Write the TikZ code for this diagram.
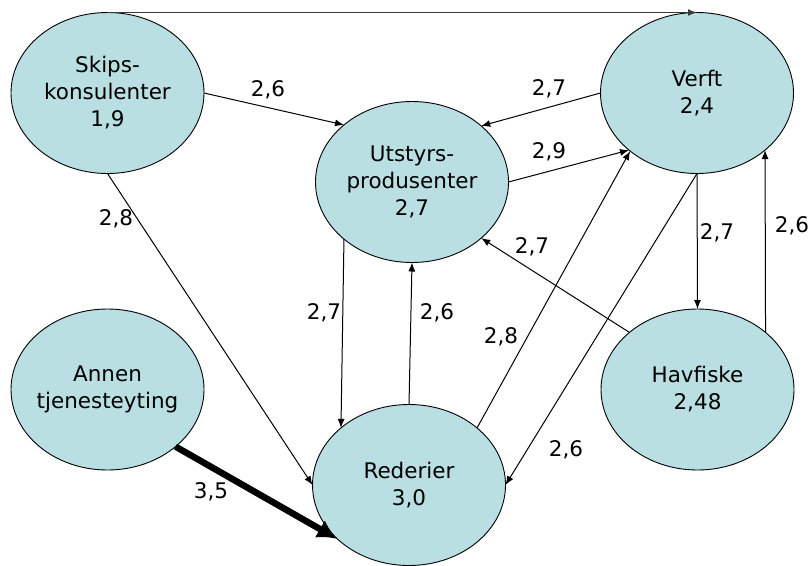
\documentclass[tikz,border=0pt]{standalone}
\usepackage{fontspec}
\setmainfont{DejaVu Sans}
\usetikzlibrary{shapes.geometric,arrows.meta}
\definecolor{blobfill}{RGB}{185,223,226}
\definecolor{toplink}{RGB}{60,60,60}
\tikzset{
  blob/.style={ellipse, draw=black, line width=0.9pt, fill=blobfill,
    minimum width=193pt, minimum height=161pt, inner sep=0pt, outer sep=0pt},
  blobtext/.style={align=center, inner sep=0pt,
    font=\fontsize{21.5pt}{27pt}\selectfont},
  lbl/.style={inner sep=0pt, font=\fontsize{21.5pt}{26pt}\selectfont},
  link/.style={line width=1pt, -{Latex[length=9pt,width=7pt]}},
  heavy/.style={line width=6.5pt, -{Latex[length=20pt,width=20pt]}},
}
\begin{document}
\begin{tikzpicture}[x=1pt,y=-1pt]
\useasboundingbox (0,0) rectangle (810,565);

% ellipses
\node[blob] (sk) at (107.5,93) {};
\node[blob] (ut) at (412,182) {};
\node[blob] (ve) at (697,93) {};
\node[blob] (an) at (107.5,389.5) {};
\node[blob] (re) at (409,485) {};
\node[blob] (ha) at (697.5,389.5) {};

% node texts
\node[blobtext] (skt) at (sk) {Skips-\\konsulenter\\1,9};
\node[blobtext] (utt) at (ut) {Utstyrs-\\produsenter\\2,7};
\node[blobtext] (vet) at (ve) {Verft\\2,4};
\node[blobtext] (ant) at (an) {Annen\\tjenesteyting};
\node[blobtext] (ret) at (re) {Rederier\\3,0};
\node[blobtext] (hat) at (ha) {Havfiske\\2,48};

% connectors
\draw[link, draw=toplink, line width=1.6pt] (sk.north) -- (ve.north);
\draw[link] (sk.east) -- (ut.140);
\draw[link] (sk.south) -- (re.west);
\draw[link] (ve.west) -- (ut.39);
\draw[link] (ut.east) -- (ve.220);
\draw[link] (ha.140) -- (ut.321);
\draw[link] (re.40) -- (ve.221);
\draw[link] (ve.south) -- (re.east);
\draw[link] (ve.south) -- (ha.north);
\draw[link] (ha.40) -- (ve.320);
\draw[link] (ut.220) -- (re.140);
\draw[link] (re.north) -- (ut.south);
\draw[heavy] (an.320) -- (re.217);

% weights
\node[lbl] (w1) at (268,90) {2,6};
\node[lbl] (w2) at (116,219) {2,8};
\node[lbl] (w3) at (549,89) {2,7};
\node[lbl] (w4) at (549,152) {2,9};
\node[lbl] (w5) at (532,247) {2,7};
\node[lbl] (w6) at (717,233) {2,7};
\node[lbl] (w7) at (792,226) {2,6};
\node[lbl] (w8) at (324,313) {2,7};
\node[lbl] (w9) at (437,313) {2,6};
\node[lbl] (w10) at (501,337) {2,8};
\node[lbl] (w11) at (566,450) {2,6};
\node[lbl] (w12) at (211,492) {3,5};
\end{tikzpicture}
\end{document}
